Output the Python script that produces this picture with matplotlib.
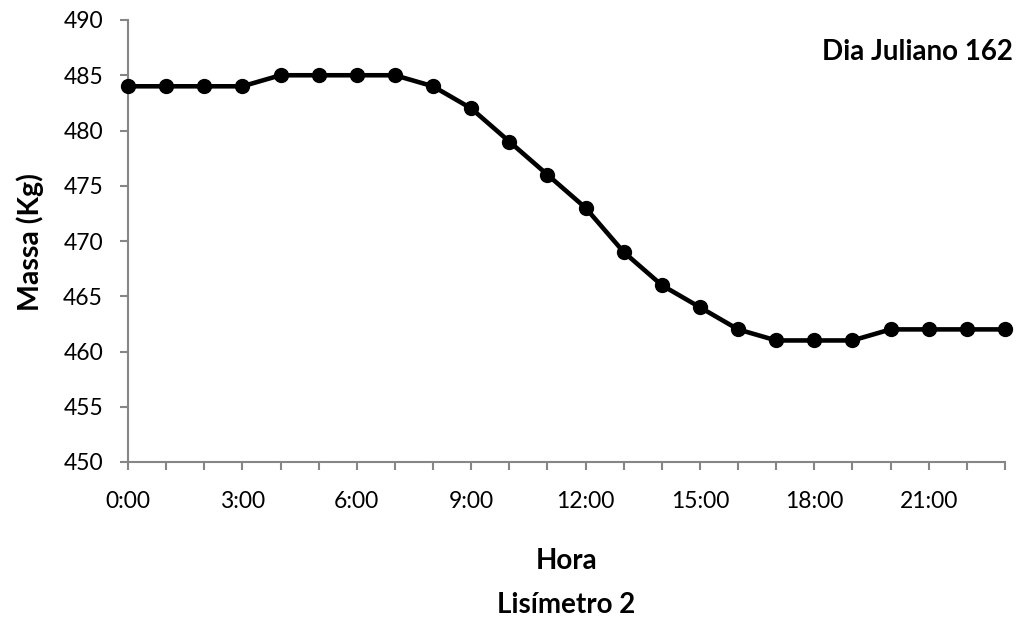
import matplotlib
matplotlib.use("Agg")
import matplotlib.pyplot as plt
from matplotlib.ticker import MultipleLocator, FixedLocator

plt.rcParams['font.family'] = ['Lato', 'DejaVu Sans']

hours = list(range(24))
tick_labels = [f"{h}:00" for h in range(0, 24, 3)]
massa = [484, 484, 484, 484, 485, 485, 485, 485, 484, 482, 479, 476,
         473, 469, 466, 464, 462, 461, 461, 461, 462, 462, 462, 462]

W, H = 1019, 620
fig = plt.figure(figsize=(W / 100, H / 100), dpi=100)
ax = fig.add_axes([128 / W, 1 - 462 / H, (1005 - 128) / W, (462 - 20) / H])

ax.plot(hours, massa, color='black', lw=3.3, marker='o', ms=10, zorder=3, clip_on=False)

ax.set_xlim(0, 23)
ax.set_ylim(450, 490)
ax.yaxis.set_major_locator(MultipleLocator(5))
ax.xaxis.set_major_locator(FixedLocator(list(range(0, 24, 3))))
ax.xaxis.set_minor_locator(FixedLocator(hours))
ax.set_xticklabels(tick_labels)

gray = '#868686'
for s in ['top', 'right']:
    ax.spines[s].set_visible(False)
for s in ['left', 'bottom']:
    ax.spines[s].set_color(gray)
    ax.spines[s].set_linewidth(1.5)

ax.tick_params(axis='both', which='both', color=gray, width=1.5, labelsize=16.5, labelcolor='black')
ax.tick_params(axis='y', direction='out', length=6, pad=12)
ax.tick_params(axis='x', which='both', direction='out', length=6, pad=15)

fig.text(30 / W, 1 - 242 / H, 'Massa (Kg)', ha='center', va='center', rotation=90,
         fontsize=20.5, fontweight='bold')
cx = 0.5 * (128 + 1005) / W
fig.text(cx, 1 - 561 / H, 'Hora', ha='center', va='center',
         fontsize=20, fontweight='bold')
fig.text(cx, 1 - 605 / H, 'Lisímetro 2', ha='center', va='center',
         fontsize=20, fontweight='bold')
fig.text(1013 / W, 1 - 52 / H, 'Dia Juliano 162', ha='right', va='center',
         fontsize=20, fontweight='bold')

fig.savefig('out.png', dpi=100)
